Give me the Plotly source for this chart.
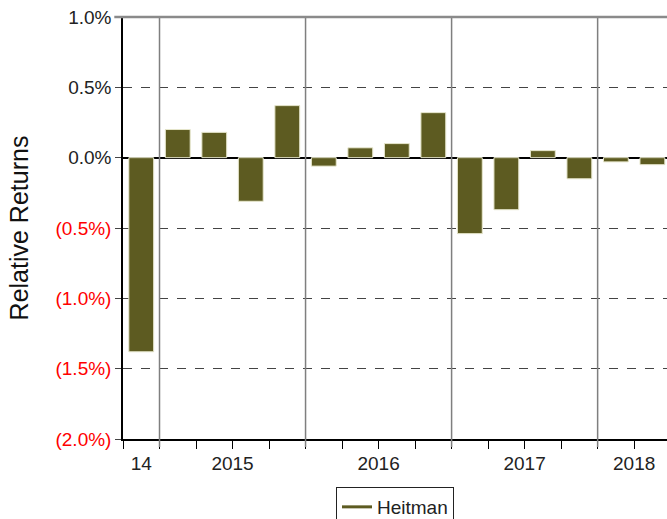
import plotly.graph_objects as go

# Quarterly relative returns (percent), 2014 Q4 through 2018 Q2
quarters = ["2014Q4",
            "2015Q1", "2015Q2", "2015Q3", "2015Q4",
            "2016Q1", "2016Q2", "2016Q3", "2016Q4",
            "2017Q1", "2017Q2", "2017Q3", "2017Q4",
            "2018Q1", "2018Q2"]
heitman = [-1.38,
           0.20, 0.18, -0.31, 0.37,
           -0.06, 0.07, 0.10, 0.32,
           -0.54, -0.37, 0.05, -0.15,
           -0.03, -0.05]

year_labels = ["14", "2015", "2016", "2017", "2018"]
y_ticks = [1.0, 0.5, 0.0, -0.5, -1.0, -1.5, -2.0]

BAR_COLOR = "#5d5b21"
FONT = "Liberation Sans, Arial, sans-serif"

idx = list(range(len(quarters)))
years = [q[:4] for q in quarters]

# group quarter positions by year
year_groups = {}
for i, y in zip(idx, years):
    year_groups.setdefault(y, []).append(i)
year_centers = [(g[0] + g[-1]) / 2 for g in year_groups.values()]
year_starts = [g[0] - 0.5 for g in year_groups.values()][1:]
quarter_bounds = [i - 0.5 for i in idx]


def fmt_pct(v):
    if v < 0:
        return f"<span style='color:#ff0000'>({abs(v):.1f}%)</span>"
    return f"{v:.1f}%"


fig = go.Figure()
fig.add_trace(go.Bar(
    x=idx, y=heitman, width=0.68,
    marker=dict(color=BAR_COLOR, line=dict(color="#e6e6cc", width=1)),
    showlegend=False,
))
# legend entry drawn as a short line
fig.add_trace(go.Scatter(
    x=[None], y=[None], mode="lines", name="Heitman",
    line=dict(color=BAR_COLOR, width=3),
))

shapes = []
for xb in year_starts:
    shapes.append(dict(type="line", xref="x", yref="paper", x0=xb, x1=xb,
                       y0=-0.019, y1=1, line=dict(color="#7f7f7f", width=1.5),
                       layer="above"))
# top frame line
shapes.append(dict(type="line", xref="paper", yref="paper", x0=-0.016, x1=1,
                   y0=1, y1=1, line=dict(color="#8a8a8a", width=2.5),
                   layer="above"))

fig.update_layout(
    width=667, height=519,
    margin=dict(l=123, r=0, t=17, b=80, autoexpand=False),
    paper_bgcolor="white", plot_bgcolor="white",
    font=dict(family=FONT, size=19, color="#222222"),
    bargap=0.32,
    shapes=shapes,
    legend=dict(orientation="h", x=0.5, xanchor="center", xref="paper",
                y=(519 - 487) / 519, yref="container", yanchor="top",
                bordercolor="#222222", borderwidth=1,
                font=dict(size=19), itemwidth=30),
    xaxis=dict(
        range=[-0.5, 14.4], automargin=False,
        tickmode="array", tickvals=year_centers, ticktext=year_labels,
        ticks="outside", ticklen=6, tickcolor="rgba(0,0,0,0)",
        showgrid=False, zeroline=False,
        showline=True, linecolor="#000000", linewidth=1.5,
        tickfont=dict(size=19, color="#222222"),
        minor=dict(tickmode="array", tickvals=quarter_bounds,
                   ticks="outside", ticklen=8, tickcolor="#000000",
                   tickwidth=1, showgrid=False),
    ),
    yaxis=dict(
        range=[-2.0, 1.0], automargin=False,
        tickmode="array", tickvals=y_ticks,
        ticktext=[fmt_pct(v) for v in y_ticks],
        ticks="outside", ticklen=6, tickcolor="#444444",
        showgrid=True, gridcolor="#444444", griddash="dash", gridwidth=1,
        zeroline=True, zerolinecolor="#000000", zerolinewidth=2,
        showline=True, linecolor="#000000", linewidth=1.5,
        tickfont=dict(size=19, color="#222222"),
        title=dict(text="Relative Returns", font=dict(size=25, color="#111111"),
                   standoff=20),
    ),
)

fig.write_html("out.html")
